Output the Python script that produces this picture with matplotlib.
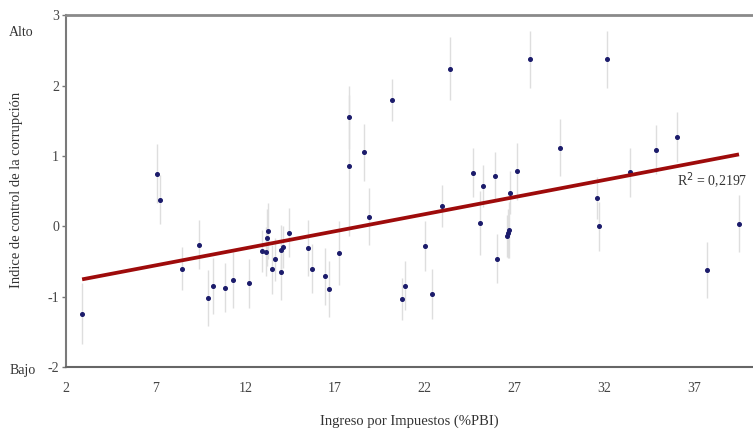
import numpy as np
import matplotlib
matplotlib.use('Agg')
import matplotlib.pyplot as plt

plt.rcParams['font.family'] = ['Liberation Serif', 'DejaVu Serif']
plt.rcParams['axes.unicode_minus'] = False

# Ingreso por impuestos (%PBI) vs indice de control de la corrupcion
x_pbi = [2.9, 7.07, 7.24, 8.47, 9.41, 9.9, 10.19, 10.86, 11.3, 12.2,
         12.91, 13.15, 13.19, 13.26, 13.48, 13.63, 13.97, 14.0, 14.1, 14.41,
         15.49, 15.71, 16.42, 16.64, 17.2, 17.79, 17.79, 18.61, 18.91, 20.15,
         20.75, 20.9, 22.01, 22.4, 22.96, 23.4, 24.67, 25.1, 25.26, 25.91,
         26.0, 26.6, 26.62, 26.68, 26.77, 27.16, 27.86, 29.54, 31.62, 31.73,
         32.14, 33.44, 34.9, 36.04, 37.71, 39.51]
y_icc = [-1.24, 0.75, 0.38, -0.60, -0.26, -1.02, -0.85, -0.87, -0.76, -0.81,
         -0.35, -0.36, -0.16, -0.07, -0.61, -0.47, -0.65, -0.33, -0.29, -0.09,
         -0.31, -0.60, -0.71, -0.89, -0.38, 1.55, 0.86, 1.05, 0.14, 1.79,
         -1.03, -0.84, -0.28, -0.96, 0.29, 2.24, 0.76, 0.05, 0.57, 0.71,
         -0.46, -0.14, -0.10, -0.05, 0.48, 0.78, 2.37, 1.12, 0.40, 0.00,
         2.37, 0.77, 1.09, 1.27, -0.62, 0.04]
err = [0.43, 0.42, 0.35, 0.30, 0.35, 0.40, 0.40, 0.35, 0.40, 0.35,
       0.30, 0.35, 0.40, 0.40, 0.35, 0.30, 0.40, 0.35, 0.30, 0.35,
       0.40, 0.35, 0.40, 0.40, 0.45, 0.45, 1.00, 0.40, 0.40, 0.30,
       0.30, 0.35, 0.35, 0.35, 0.30, 0.45, 0.35, 0.45, 0.30, 0.35,
       0.35, 0.30, 0.35, 0.40, 0.30, 0.40, 0.40, 0.40, 0.30, 0.35,
       0.40, 0.35, 0.35, 0.35, 0.40, 0.40]
r2_label = 'R$^2$ = 0,2197'

fig = plt.figure(figsize=(7.53, 4.32), dpi=100)
ax = fig.add_axes([0.0876, 0.150, 0.9124, 0.815])

ax.errorbar(x_pbi, y_icc, yerr=err, fmt='o', ms=2.6, mfc='#1b1b6b', mec='#1b1b6b',
            ecolor='#dedede', elinewidth=1.0, capsize=0, zorder=3)

slope, intercept = np.polyfit(x_pbi, y_icc, 1)
xl = np.array([min(x_pbi), max(x_pbi)])
ax.plot(xl, intercept + slope * xl, color='#9e0b0b', lw=2.7, zorder=4, solid_capstyle='butt')
ax.text(40.0, intercept + slope * 39.5 - 0.38, r2_label, ha='right', va='center',
        fontsize=10, color='#333333')

ax.set_xlim(2, 40.29)
ax.set_ylim(-2, 3)
ax.set_xticks([2, 7, 12, 17, 22, 27, 32, 37])
ax.set_yticks([-2, -1, 0, 1, 2, 3])
ax.tick_params(axis='x', length=0, pad=11, labelsize=10, labelcolor='#444444')
ax.tick_params(axis='y', length=3, width=1, color='#777777', pad=2, labelsize=10,
               labelcolor='#444444')

ax.spines['right'].set_visible(False)
ax.spines['top'].set_color('#8a8a8a')
ax.spines['top'].set_linewidth(2)
ax.spines['left'].set_color('#7a7a7a')
ax.spines['left'].set_linewidth(1.5)
ax.spines['bottom'].set_color('#666666')
ax.spines['bottom'].set_linewidth(1.5)

ax.set_xlabel('Ingreso por Impuestos (%PBI)', fontsize=10.5, color='#333333', labelpad=14)
fig.text(0.022, 0.56, 'Indice de control de la corrupción', rotation=90, ha='center',
         va='center', fontsize=10.5, color='#333333')
fig.text(0.012, 0.925, 'Alto', ha='left', va='center', fontsize=10, color='#333333')
fig.text(0.012, 0.143, 'Bajo', ha='left', va='center', fontsize=10, color='#333333')

fig.savefig('out.png', dpi=100)
